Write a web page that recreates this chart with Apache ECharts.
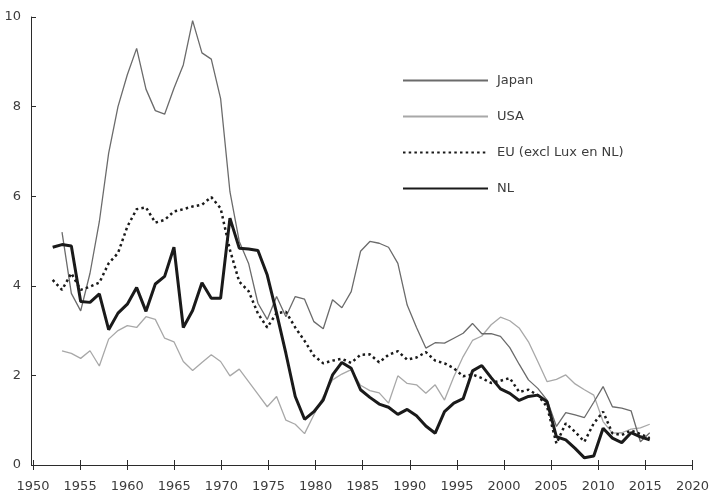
<!DOCTYPE html>
<html>
<head>
<meta charset="utf-8">
<script src="https://cdn.jsdelivr.net/npm/echarts@6/dist/echarts.min.js"></script>
<style>
	html, body { margin: 0; padding: 0; background: #fff; }
	#rate_chart_line { width: 712px; height: 494px; }
</style>
</head>
<body>
<div id="rate_chart_line"></div>
<script>
// Data (1952 - 2016)
var years = [1952, 1953, 1954, 1955, 1956, 1957, 1958, 1959, 1960, 1961,
	1962, 1963, 1964, 1965, 1966, 1967, 1968, 1969, 1970, 1971,
	1972, 1973, 1974, 1975, 1976, 1977, 1978, 1979, 1980, 1981,
	1982, 1983, 1984, 1985, 1986, 1987, 1988, 1989, 1990, 1991,
	1992, 1993, 1994, 1995, 1996, 1997, 1998, 1999, 2000, 2001,
	2002, 2003, 2004, 2005, 2006, 2007, 2008, 2009, 2010, 2011,
	2012, 2013, 2014, 2015, 2016];

var japan = [null, 5.2, 3.83, 3.44, 4.28, 5.43, 6.96, 8.0, 8.71, 9.3,
	8.39, 7.91, 7.83, 8.41, 8.93, 9.92, 9.2, 9.06, 8.18, 6.1,
	4.99, 4.5, 3.61, 3.25, 3.76, 3.31, 3.76, 3.7, 3.2, 3.04,
	3.69, 3.51, 3.87, 4.77, 4.99, 4.95, 4.86, 4.5, 3.57, 3.07,
	2.61, 2.73, 2.72, 2.83, 2.94, 3.16, 2.93, 2.93, 2.87, 2.62,
	2.25, 1.9, 1.71, 1.45, 0.86, 1.17, 1.12, 1.06, 1.4, 1.75,
	1.3, 1.27, 1.21, 0.52, 0.72];

var usa = [null, 2.55, 2.49, 2.38, 2.55, 2.21, 2.81, 3.0, 3.11, 3.07,
	3.31, 3.25, 2.83, 2.75, 2.31, 2.11, 2.29, 2.46, 2.31, 1.99,
	2.14, 1.86, 1.58, 1.3, 1.53, 1.0, 0.91, 0.7, 1.12, 1.53,
	1.9, 2.03, 2.13, 1.78, 1.66, 1.61, 1.38, 1.99, 1.82, 1.79,
	1.6, 1.79, 1.45, 1.97, 2.42, 2.78, 2.88, 3.13, 3.3, 3.22,
	3.06, 2.75, 2.31, 1.86, 1.91, 2.01, 1.81, 1.68, 1.56, 0.97,
	0.71, 0.72, 0.8, 0.83, 0.91];

var eu = [4.13, 3.91, 4.28, 3.91, 3.98, 4.07, 4.5, 4.73, 5.32, 5.71,
	5.75, 5.41, 5.47, 5.66, 5.71, 5.77, 5.81, 5.98, 5.73, 4.8,
	4.09, 3.88, 3.38, 3.07, 3.39, 3.42, 3.07, 2.77, 2.44, 2.27,
	2.33, 2.37, 2.28, 2.46, 2.47, 2.29, 2.46, 2.54, 2.35, 2.4,
	2.52, 2.33, 2.27, 2.16, 1.98, 2.02, 1.94, 1.83, 1.88, 1.94,
	1.63, 1.68, 1.56, 1.3, 0.48, 0.93, 0.74, 0.52, 0.93, 1.19,
	0.71, 0.67, 0.77, 0.69, 0.6];

var nl = [4.86, 4.92, 4.89, 3.65, 3.63, 3.82, 3.02, 3.39, 3.59, 3.96,
	3.43, 4.04, 4.21, 4.86, 3.07, 3.45, 4.07, 3.72, 3.72, 5.51,
	4.84, 4.82, 4.79, 4.24, 3.39, 2.49, 1.53, 1.02, 1.19, 1.45,
	2.01, 2.29, 2.16, 1.68, 1.51, 1.36, 1.29, 1.13, 1.24, 1.1,
	0.87, 0.71, 1.19, 1.38, 1.48, 2.1, 2.22, 1.95, 1.7, 1.6,
	1.44, 1.53, 1.56, 1.41, 0.63, 0.56, 0.37, 0.16, 0.2, 0.82,
	0.6, 0.5, 0.72, 0.63, 0.56];

var seriesNames = ['Japan', 'USA', 'EU (excl Lux en NL)', 'NL'];
var yearTicks = [1950, 1955, 1960, 1965, 1970, 1975, 1980, 1985, 1990, 1995, 2000, 2005, 2010, 2015, 2020];

function pairs(values) {
	var out = [];
	for (var i = 0; i < years.length; i++) {
		out.push([years[i], values[i]]);
	}
	return out;
}

var axisColor = '#2b2b2b';
var textColor = '#3c3c3c';
var fontFamily = '"DejaVu Sans", sans-serif';

// Initialize chart
var line_element = document.getElementById('rate_chart_line');
var line_chart = echarts.init(line_element, null, { renderer: 'canvas' });

var option = {
	animation: false,
	backgroundColor: '#fff',
	grid: { left: 33, right: 15, top: 17, bottom: 29 },
	legend: {
		data: seriesNames,
		orient: 'vertical',
		left: 397,
		top: 69,
		itemWidth: 85,
		itemHeight: 14,
		itemGap: 23,
		selectedMode: false,
		// only the line in the key, no marker
		itemStyle: { color: 'rgba(0,0,0,0)', borderWidth: 0, opacity: 0 },
		textStyle: { color: textColor, fontSize: 13, fontFamily: fontFamily, padding: [0, 0, 0, 4] }
	},
	xAxis: [
		{
			// labelled axis
			type: 'value',
			min: 1950,
			max: 2020,
			interval: 5,
			splitLine: { show: false },
			axisLine: { lineStyle: { color: axisColor, width: 1 } },
			axisTick: { inside: false, length: 5, lineStyle: { color: axisColor } },
			axisLabel: {
				margin: 15,
				color: textColor,
				fontSize: 13,
				fontFamily: fontFamily,
				formatter: function (v) { return yearTicks.indexOf(v) >= 0 ? String(v) : ''; }
			}
		},
		{
			// upper half of the crossing ticks
			type: 'value',
			position: 'bottom',
			min: 1950,
			max: 2020,
			interval: 5,
			splitLine: { show: false },
			axisLine: { show: false },
			axisTick: { inside: true, length: 5, lineStyle: { color: axisColor } },
			axisLabel: { show: false }
		},
		{
			// data axis, the plotted years run slightly tighter than the labelled ticks
			type: 'value',
			position: 'bottom',
			min: 1949.89,
			max: 2020.58,
			show: false
		}
	],
	yAxis: {
		type: 'value',
		min: 0,
		max: 10,
		interval: 2,
		offset: 2,
		splitLine: { show: false },
		axisLine: { show: true, lineStyle: { color: axisColor, width: 1 } },
		axisTick: { show: true, inside: true, length: 5, lineStyle: { color: axisColor } },
		axisLabel: { margin: 10, color: textColor, fontSize: 13, fontFamily: fontFamily }
	},
	series: [
		{
			name: 'USA',
			type: 'line',
			xAxisIndex: 2,
			data: pairs(usa),
			symbol: 'none',
			lineStyle: { color: '#a8a8a8', width: 1.3 },
			itemStyle: { color: '#a8a8a8' },
			z: 2
		},
		{
			name: 'Japan',
			type: 'line',
			xAxisIndex: 2,
			data: pairs(japan),
			symbol: 'none',
			lineStyle: { color: '#6b6b6b', width: 1.3 },
			itemStyle: { color: '#6b6b6b' },
			z: 3
		},
		{
			name: 'EU (excl Lux en NL)',
			type: 'line',
			xAxisIndex: 2,
			data: pairs(eu),
			symbol: 'none',
			lineStyle: { color: '#1a1a1a', width: 2.5, type: [2.5, 3.2], cap: 'butt' },
			itemStyle: { color: '#1a1a1a' },
			z: 4
		},
		{
			name: 'NL',
			type: 'line',
			xAxisIndex: 2,
			data: pairs(nl),
			symbol: 'none',
			lineStyle: { color: '#1a1a1a', width: 3 },
			itemStyle: { color: '#1a1a1a' },
			z: 5
		}
	]
};

line_chart.setOption(option);
</script>
</body>
</html>
